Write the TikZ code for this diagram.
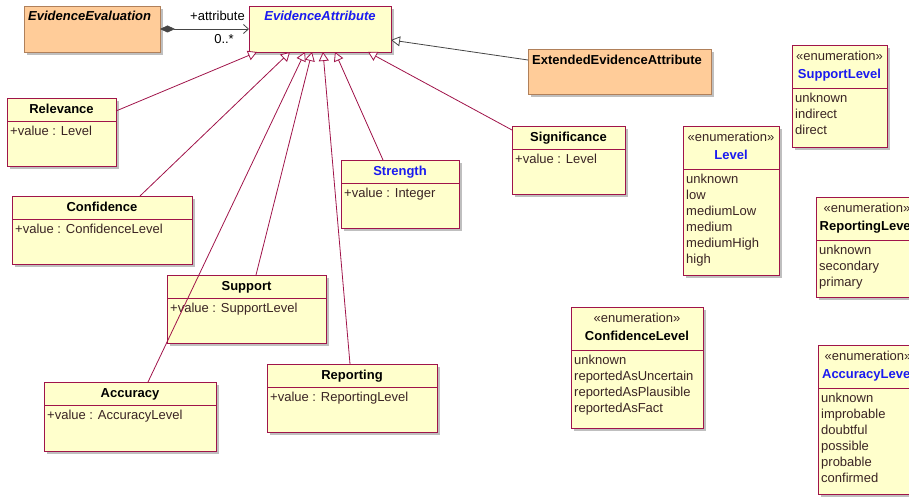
\documentclass[tikz,border=0pt]{standalone}
\usepackage{fontspec}
\setmainfont{Liberation Sans}
\usetikzlibrary{arrows.meta, calc, fit, shadows}

\definecolor{classfill}{HTML}{FFFFCC}
\definecolor{classdraw}{HTML}{A0144A}
\definecolor{extfill}{HTML}{FFCC99}
\definecolor{extdraw}{HTML}{B0805A}
\definecolor{titleblue}{HTML}{1A1AF0}
\definecolor{attrtext}{HTML}{3A2424}
\definecolor{assoccolor}{HTML}{454545}

\newcommand{\umlfont}{\fontsize{13}{15}\selectfont}

\tikzset{
  classbox/.style={draw=classdraw, fill=classfill, line width=0.9pt, inner sep=0pt, outer sep=0pt,
    drop shadow={shadow xshift=3pt, shadow yshift=-3pt, fill=black!25, opacity=1}},
  extbox/.style={classbox, draw=extdraw, fill=extfill},
  sepline/.style={draw=classdraw, line width=0.9pt},
  title/.style={font=\umlfont\bfseries, inner sep=0pt, text height=9pt, text depth=0pt},
  bluetitle/.style={title, text=titleblue},
  stereo/.style={font=\umlfont, inner sep=0pt, text height=9pt, text depth=0pt, text=attrtext},
  attr/.style={font=\umlfont, anchor=west, inner sep=0pt, xshift=3pt, text height=9pt, text depth=0pt, text=attrtext},
  gen/.style={draw=classdraw, line width=0.8pt, -{Triangle[fill=white, length=9pt, width=10pt]}},
  extgen/.style={gen, draw=assoccolor},
  assoc/.style={draw=assoccolor, line width=0.8pt, {Diamond[length=15pt, width=7pt]}-{Straight Barb[length=5pt, width=9pt]}},
  role/.style={font=\umlfont, inner sep=0pt, text height=9pt, text depth=0pt, anchor=east}
}

% class box: name, x1, y1, x2, y2, title style, title, attribute
\newcommand{\umlclass}[8]{%
  \node[classbox, fit={(#2,#3) (#4,#5)}] (#1) {};
  \draw[sepline] (#2,#3+23) -- (#4,#3+23);
  \node[#6] (#1-name) at ({(#2+#4)/2},#3+11) {#7};
  \node[attr] (#1-attr) at (#2,#3+33) {#8};
}

% enumeration box: name, x1, y1, x2, y2, title style, title, literals
\newcommand{\umlenum}[8]{%
  \node[classbox, fit={(#2,#3) (#4,#5)}] (#1) {};
  \draw[sepline] (#2,#3+43) -- (#4,#3+43);
  \node[stereo] (#1-stereo) at ({(#2+#4)/2},#3+11) {«enumeration»};
  \node[#6] (#1-name) at ({(#2+#4)/2},#3+29) {#7};
  \foreach \lit [count=\k from 0] in {#8}
    \node[attr] (#1-\k) at (#2,#3+53+16*\k) {\lit};
}

\begin{document}
\begin{tikzpicture}[x=1pt, y=-1pt]
  \path[use as bounding box] (0,0) rectangle (909,497);
  \clip (0,0) rectangle (909,497);

  % top row
  \node[extbox, fit={(24,6) (160,52)}] (evaleval) {};
  \node[title, font=\umlfont\bfseries\itshape, anchor=west] (evaleval-name) at (28,16) {EvidenceEvaluation};
  \node[classbox, fit={(249,6) (391,52)}] (evattr) {};
  \node[bluetitle, font=\umlfont\bfseries\itshape] (evattr-name) at (320,16) {EvidenceAttribute};
  \node[extbox, fit={(528,49) (711,94)}] (extattr) {};
  \node[title, anchor=west] (extattr-name) at (532,60) {ExtendedEvidenceAttribute};

  % attribute classes
  \umlclass{relevance}{7}{98}{116}{166}{title}{Relevance}{+value : Level}
  \umlclass{confidence}{12}{196}{192}{264}{title}{Confidence}{+value : ConfidenceLevel}
  \umlclass{strength}{341}{160}{459}{228}{bluetitle}{Strength}{+value : Integer}
  \umlclass{significance}{512}{126}{625}{194}{title}{Significance}{+value : Level}
  \umlclass{support}{167}{275}{326}{343}{title}{Support}{+value : SupportLevel}
  \umlclass{reporting}{267}{364}{437}{432}{title}{Reporting}{+value : ReportingLevel}
  \umlclass{accuracy}{44}{382}{216}{451}{title}{Accuracy}{+value : AccuracyLevel}

  % enumerations
  \umlenum{supportlevel}{792}{45}{887}{147}{bluetitle}{SupportLevel}{unknown, indirect, direct}
  \umlenum{level}{683}{126}{779}{275}{bluetitle}{Level}{unknown, low, mediumLow, medium, mediumHigh, high}
  \umlenum{reportinglevel}{816}{197}{918}{297}{title}{ReportingLevel}{unknown, secondary, primary}
  \umlenum{confidencelevel}{571}{307}{703}{428}{title}{ConfidenceLevel}{unknown, reportedAsUncertain, reportedAsPlausible, reportedAsFact}
  \umlenum{accuracylevel}{818}{345}{918}{494}{bluetitle}{AccuracyLevel}{unknown, improbable, doubtful, possible, probable, confirmed}

  % association
  \draw[assoc] (evaleval.east) -- (evattr.west);
  \node[role] (rolename) at ($(evattr.west)+(-4,-13)$) {+attribute};
  \node[role] (multiplicity) at ($(evattr.west)+(-15,10)$) {0..*};

  % generalizations
  \draw[extgen] ($(extattr.north west)+(0,11)$) -- ($(evattr.north east)+(0,34)$);
  \draw[gen] ($(relevance.north east)+(0,13)$) -- ($(evattr.south west)+(8,0)$);
  \draw[gen] ($(confidence.north west)+(128,0)$) -- ($(evattr.south west)+(41,0)$);
  \draw[gen] ($(accuracy.north west)+(104,0)$) -- ($(evattr.south west)+(56,0)$);
  \draw[gen] ($(support.north west)+(89,0)$) -- ($(evattr.south west)+(63,0)$);
  \draw[gen] ($(reporting.north west)+(83,0)$) -- ($(evattr.south west)+(74,0)$);
  \draw[gen] ($(strength.north west)+(42,0)$) -- ($(evattr.south west)+(86,0)$);
  \draw[gen] ($(significance.north west)+(0,4)$) -- ($(evattr.south west)+(119,0)$);
\end{tikzpicture}
\end{document}
